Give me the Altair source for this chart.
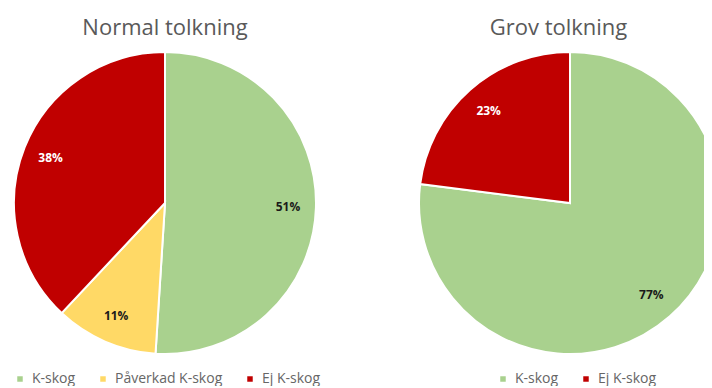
import altair as alt
import pandas as pd

# Data
cat_normal = ["K-skog", "Påverkad K-skog", "Ej K-skog"]
val_normal = [51, 11, 38]
cat_grov = ["K-skog", "Ej K-skog"]
val_grov = [77, 23]
colors_normal = ["#A9D18E", "#FFD966", "#C00000"]
colors_grov = ["#A9D18E", "#C00000"]
label_colors_normal = ["#1a1a1a", "#1a1a1a", "#ffffff"]
label_colors_grov = ["#1a1a1a", "#ffffff"]

FONT = "Open Sans"
R = 151


def pie(title, cats, vals, cols, lcols, width, cx, legend_x):
    df = pd.DataFrame({
        "kat": cats,
        "v": vals,
        "idx": list(range(len(cats))),
        "lab": [f"{v}%" for v in vals],
        "lc": lcols,
    })
    base = alt.Chart(df).encode(
        theta=alt.Theta("v:Q", stack=True),
        order=alt.Order("idx:Q"),
        x=alt.value(cx),
        y=alt.value(151),
    )
    arcs = base.mark_arc(outerRadius=R, stroke="white", strokeWidth=2, clip=True).encode(
        color=alt.Color(
            "kat:N",
            scale=alt.Scale(domain=cats, range=cols),
            sort=cats,
            legend=alt.Legend(
                title=None,
                orient="none",
                direction="horizontal",
                legendX=legend_x,
                legendY=320,
                symbolType="square",
                symbolSize=30,
                symbolStrokeWidth=0,
                labelFont=FONT,
                labelFontSize=14,
                labelColor="#666666",
                columnPadding=20,
                labelOffset=5,
            ),
        )
    )
    texts = base.mark_text(radius=123, font=FONT, fontSize=12, fontWeight="bold", clip=True).encode(
        text="lab:N",
        color=alt.Color("lc:N", scale=None),
    )
    return alt.layer(arcs, texts).properties(
        width=width,
        height=302,
        title=alt.TitleParams(
            title, font=FONT, fontSize=22, fontWeight="normal", color="#595959",
            anchor="middle", offset=12,
        ),
    ).resolve_scale(color="independent")


left = pie("Normal tolkning", cat_normal, val_normal, colors_normal, label_colors_normal, 314, 157, 5)
right = pie("Grov tolkning", cat_grov, val_grov, colors_grov, label_colors_grov, 291, 157, 83)

chart = alt.hconcat(left, right, spacing=91).resolve_scale(color="independent").properties(
    padding={"top": 9, "left": 0, "right": 0, "bottom": 0}
).configure_view(stroke=None)

chart.save("out.html", embed_options={"renderer": "svg", "actions": False})
